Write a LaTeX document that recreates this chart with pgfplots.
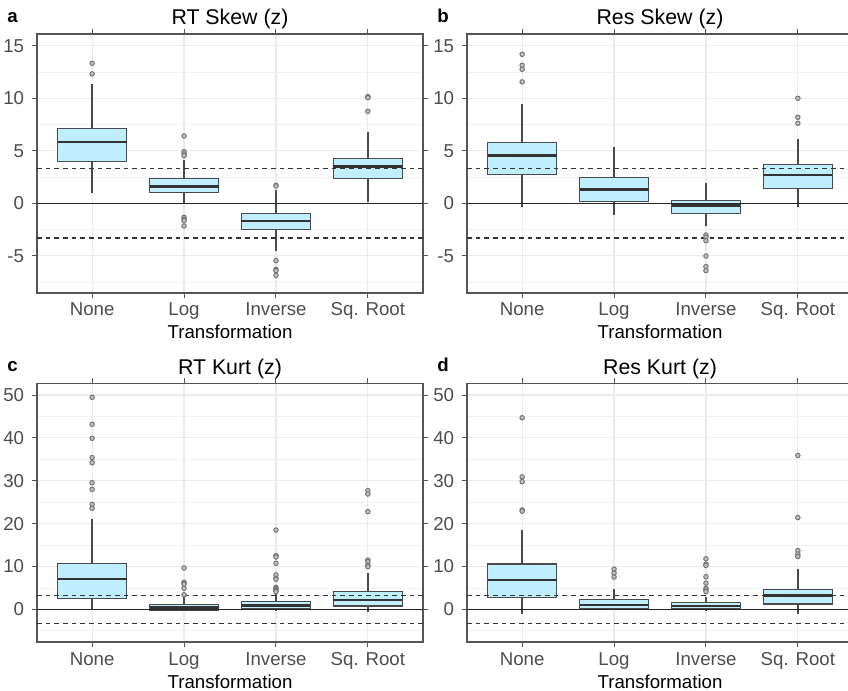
\documentclass[border=0pt]{standalone}
\usepackage{fontspec}
\setmainfont{Liberation Sans}
\usepackage{pgfplots}
\pgfplotsset{compat=1.18}
\usepgfplotslibrary{statistics}
\definecolor{boxfill}{HTML}{BFEFFF}
\definecolor{boxline}{HTML}{4A4A4A}
\definecolor{gridc}{HTML}{EBEBEB}
\definecolor{tickc}{HTML}{4D4D4D}
\definecolor{framec}{HTML}{555555}

\pgfplotsset{
  panel/.style={
    scale only axis, width=289.5pt,
    xmin=0.4, xmax=4.6,
    xtick={1,2,3,4}, xticklabels={None,Log,Inverse,Sq. Root},
    xmajorgrids, ymajorgrids, yminorgrids,
    major grid style={draw=gridc, line width=0.9pt},
    minor grid style={draw=gridc!70, line width=0.5pt},
    minor tick length=0pt,
    tick align=outside, major tick length=4pt,
    every tick/.style={draw=framec, line width=0.8pt},
    axis line style={draw=framec, line width=1pt},
    tick label style={font=\fontsize{14}{16}\selectfont, text=tickc},
    /pgf/number format/assume math mode=true,
    xticklabel style={anchor=base, inner sep=0pt, yshift=-13.25pt},
    yticklabel style={anchor=east, inner sep=0pt, xshift=-5.5pt},
    xlabel={Transformation},
    xlabel style={at={(axis description cs:0.5,0)}, anchor=base, inner sep=0pt, yshift=-34.5pt, font=\fontsize{14}{16}\selectfont},
    title style={at={(axis description cs:0.5,1)}, anchor=base, inner sep=0pt, yshift=0.75pt, font=\fontsize{16}{18}\selectfont},
    clip=true,
  },
  skew/.style={panel, height=194.25pt, ymin=-8.54, ymax=16.12,
    ytick={-5,0,5,10,15}, minor ytick={-7.5,-2.5,2.5,7.5,12.5}},
  kurt/.style={panel, height=193.9pt, ymin=-7.63, ymax=52.7,
    ytick={0,10,20,30,40,50}, minor ytick={-5,5,15,25,35,45}},
  bx/.style={draw=boxline, fill=boxfill, line width=1.1pt, solid,
    boxplot/draw direction=y,
    boxplot/box extend=0.75, boxplot/whisker extend=0,
    boxplot/every whisker/.style={draw=boxline, line width=1pt},
    boxplot/every median/.style={draw=black!80, line width=2pt},
    mark=*, mark size=1.7pt,
    mark options={draw=black!55, fill=black!25, line width=0.7pt}},
  zline/.style={black!85, line width=0.8pt},
  dline/.style={black!80, line width=1pt, dash pattern=on 3.5pt off 3pt},
}

\begin{document}
\begin{tikzpicture}
\useasboundingbox (0,0) rectangle (636pt,518.25pt);
\clip (0,0) rectangle (636pt,518.25pt);

% a
\begin{axis}[skew, at={(27.75pt,298.5pt)}, anchor=south west, title={RT Skew (z)}]
\addplot[bx, boxplot prepared={draw position=1, lower whisker=1.02, lower quartile=4.0, median=5.84, upper quartile=7.14, upper whisker=11.33}]
  coordinates {(0,13.33) (0,12.32)};
\addplot[bx, boxplot prepared={draw position=2, lower whisker=-0.05, lower quartile=1.02, median=1.59, upper quartile=2.35, upper whisker=4.13}]
  coordinates {(0,6.41) (0,4.92) (0,4.70) (0,4.54) (0,-1.33) (0,-1.52) (0,-1.65) (0,-2.16)};
\addplot[bx, boxplot prepared={draw position=3, lower whisker=-4.5, lower quartile=-2.48, median=-1.68, upper quartile=-0.95, upper whisker=1.27}]
  coordinates {(0,1.71) (0,1.65) (0,-5.46) (0,-6.29) (0,-6.41) (0,-6.86)};
\addplot[bx, boxplot prepared={draw position=4, lower whisker=0.16, lower quartile=2.35, median=3.49, upper quartile=4.25, upper whisker=6.76}]
  coordinates {(0,10.16) (0,10.06) (0,8.76)};
\addplot[zline] coordinates {(0.4,0) (4.6,0)};
\addplot[dline] coordinates {(0.4,3.29) (4.6,3.29)};
\addplot[dline] coordinates {(0.4,-3.29) (4.6,-3.29)};
\end{axis}

% b
\begin{axis}[skew, at={(350.25pt,298.5pt)}, anchor=south west, title={Res Skew (z)}]
\addplot[bx, boxplot prepared={draw position=1, lower whisker=-0.32, lower quartile=2.76, median=4.54, upper quartile=5.78, upper whisker=9.43}]
  coordinates {(0,14.19) (0,13.14) (0,12.76) (0,11.56)};
\addplot[bx, boxplot prepared={draw position=2, lower whisker=-1.11, lower quartile=0.19, median=1.33, upper quartile=2.44, upper whisker=5.33}]
  coordinates {};
\addplot[bx, boxplot prepared={draw position=3, lower whisker=-2.13, lower quartile=-0.95, median=-0.22, upper quartile=0.29, upper whisker=1.9}]
  coordinates {(0,-3.02) (0,-3.24) (0,-3.56) (0,-5.02) (0,-6.03) (0,-6.41)};
\addplot[bx, boxplot prepared={draw position=4, lower whisker=-0.38, lower quartile=1.4, median=2.7, upper quartile=3.71, upper whisker=6.1}]
  coordinates {(0,10.0) (0,8.19) (0,7.62)};
\addplot[zline] coordinates {(0.4,0) (4.6,0)};
\addplot[dline] coordinates {(0.4,3.29) (4.6,3.29)};
\addplot[dline] coordinates {(0.4,-3.29) (4.6,-3.29)};
\end{axis}

% c
\begin{axis}[kurt, at={(27.75pt,36.75pt)}, anchor=south west, title={RT Kurt (z)}]
\addplot[bx, boxplot prepared={draw position=1, lower whisker=-0.15, lower quartile=2.57, median=7.08, upper quartile=10.65, upper whisker=21.07}]
  coordinates {(0,49.46) (0,43.16) (0,39.9) (0,35.4) (0,34.2) (0,29.55) (0,28.0) (0,24.5) (0,23.56)};
\addplot[bx, boxplot prepared={draw position=2, lower whisker=-0.5, lower quartile=-0.23, median=0.47, upper quartile=1.17, upper whisker=2.9}]
  coordinates {(0,9.64) (0,6.3) (0,6.1) (0,5.83) (0,4.9) (0,3.4)};
\addplot[bx, boxplot prepared={draw position=3, lower whisker=-0.3, lower quartile=0.08, median=0.93, upper quartile=1.79, upper whisker=3.9}]
  coordinates {(0,18.5) (0,12.52) (0,12.2) (0,10.73) (0,8.0) (0,7.23) (0,7.0) (0,5.13) (0,4.9) (0,4.67) (0,4.35) (0,4.12)};
\addplot[bx, boxplot prepared={draw position=4, lower whisker=-0.54, lower quartile=0.78, median=2.18, upper quartile=4.12, upper whisker=8.4}]
  coordinates {(0,27.7) (0,26.9) (0,22.8) (0,11.5) (0,11.1) (0,10.34) (0,9.95)};
\addplot[zline] coordinates {(0.4,0) (4.6,0)};
\addplot[dline] coordinates {(0.4,3.29) (4.6,3.29)};
\addplot[dline] coordinates {(0.4,-3.29) (4.6,-3.29)};
\end{axis}

% d
\begin{axis}[kurt, at={(350.25pt,36.75pt)}, anchor=south west, title={Res Kurt (z)}]
\addplot[bx, boxplot prepared={draw position=1, lower whisker=-1.16, lower quartile=2.79, median=6.82, upper quartile=10.62, upper whisker=18.45}]
  coordinates {(0,44.7) (0,30.9) (0,29.8) (0,23.2) (0,22.9)};
\addplot[bx, boxplot prepared={draw position=2, lower whisker=-0.15, lower quartile=0.08, median=1.0, upper quartile=2.33, upper whisker=4.65}]
  coordinates {(0,9.38) (0,8.45) (0,7.52)};
\addplot[bx, boxplot prepared={draw position=3, lower whisker=-0.3, lower quartile=0.08, median=0.78, upper quartile=1.63, upper whisker=2.79}]
  coordinates {(0,11.78) (0,10.54) (0,10.23) (0,7.6) (0,6.12) (0,4.88) (0,4.5) (0,4.1)};
\addplot[bx, boxplot prepared={draw position=4, lower whisker=-1.16, lower quartile=1.24, median=3.18, upper quartile=4.65, upper whisker=9.3}]
  coordinates {(0,35.9) (0,21.4) (0,13.7) (0,12.9) (0,12.33)};
\addplot[zline] coordinates {(0.4,0) (4.6,0)};
\addplot[dline] coordinates {(0.4,3.29) (4.6,3.29)};
\addplot[dline] coordinates {(0.4,-3.29) (4.6,-3.29)};
\end{axis}

\node[anchor=base west, inner sep=0pt, font=\bfseries\fontsize{14}{16}\selectfont] at (5.25pt,501pt) {a};
\node[anchor=base west, inner sep=0pt, font=\bfseries\fontsize{14}{16}\selectfont] at (327.75pt,501pt) {b};
\node[anchor=base west, inner sep=0pt, font=\bfseries\fontsize{14}{16}\selectfont] at (5.25pt,239.25pt) {c};
\node[anchor=base west, inner sep=0pt, font=\bfseries\fontsize{14}{16}\selectfont] at (327.75pt,239.25pt) {d};
\end{tikzpicture}
\end{document}
